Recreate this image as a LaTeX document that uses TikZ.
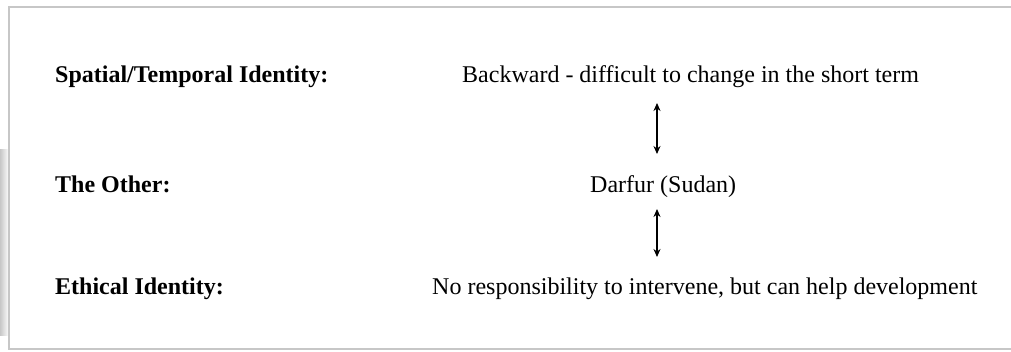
\documentclass[tikz,border=0pt]{standalone}
\usepackage{fontspec}
\setmainfont{Liberation Serif}
\usetikzlibrary{arrows.meta}
\begin{document}
\begin{tikzpicture}[x=1pt,y=-1pt,
  lbl/.style={anchor=base west,inner sep=0pt,font=\fontsize{24}{28}\selectfont\bfseries},
  val/.style={anchor=base west,inner sep=0pt,font=\fontsize{24}{28}\selectfont},
  link/.style={line width=1.8pt,{Stealth[length=8pt,width=7pt]}-{Stealth[length=8pt,width=7pt]}}]
\useasboundingbox (0,0) rectangle (1011,352);
\fill[white] (0,0) rectangle (1011,352);
\shade[left color=black!22,right color=white] (0,150) rectangle (9,335);
\draw[black!22,line width=1.5pt] (1013,7) -- (9,7) -- (9,349) -- (1013,349);
\node[lbl] (l1) at (55,83) {Spatial/Temporal Identity:};
\node[lbl] (l2) at (55,193) {The Other:};
\node[lbl] (l3) at (55,295) {Ethical Identity:};
\node[val] (v1) at (462,83) {Backward - difficult to change in the short term};
\node[val] (v2) at (590,193) {Darfur (Sudan)};
\node[val] (v3) at (432,295) {No responsibility to intervene, but can help development};
\coordinate (a1) at (657,103);
\coordinate (b1) at (657,154);
\coordinate (a2) at (657,209);
\coordinate (b2) at (657,257);
\draw[link] (a1) -- (b1);
\draw[link] (a2) -- (b2);
\end{tikzpicture}
\end{document}
